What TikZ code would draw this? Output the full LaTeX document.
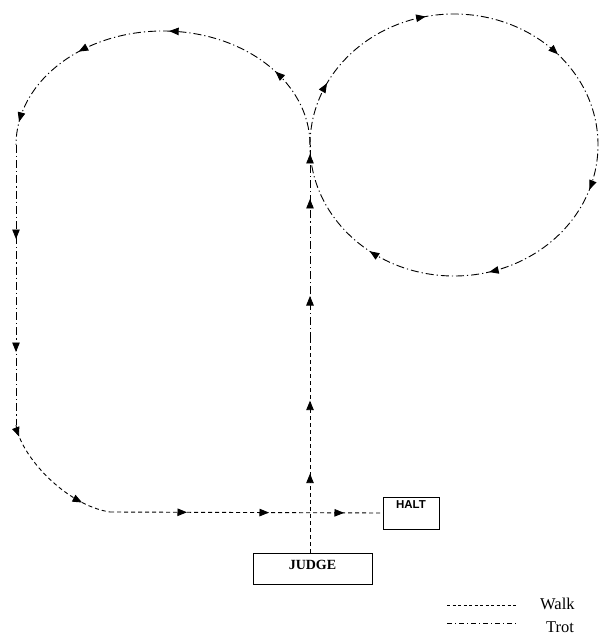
\documentclass[tikz,border=0pt]{standalone}
\usepackage{fontspec}
\setmainfont{Liberation Serif}
\setsansfont{Liberation Sans}
\usetikzlibrary{positioning, arrows.meta, decorations.markings, calc}

\begin{document}
\begin{tikzpicture}[x=1pt, y=1pt,
    walk/.style={line width=0.9pt, dash pattern=on 4pt off 3pt},
    trot/.style={line width=0.9pt, dash pattern=on 8pt off 3pt on 1.2pt off 3pt},
    tip/.style={postaction={decorate, decoration={markings,
        mark=at position #1 with {\arrow{Triangle[length=9.5pt, width=7.5pt]}}}}},
    box/.style={draw, line width=0.7pt, inner sep=0pt},
    legend/.style={inner sep=0pt, font=\fontsize{16.5}{16.5}\selectfont}]
  \useasboundingbox (0,0) rectangle (599,-636);

  \coordinate (junction) at (310,-145);
  \coordinate (change) at (310,-340);
  \coordinate (left_top) at (16,-145);
  \coordinate (left_bottom) at (16,-425);
  \coordinate (corner_end) at (110,-512);

  \node [box, minimum width=119pt, minimum height=31pt, text height=9.5pt, text depth=8pt,
         font=\fontsize{14}{14}\selectfont\bfseries] (judge) at (312.5,-568.5) {JUDGE};
  \node [box, minimum width=56pt, minimum height=32pt, text height=8.2pt, text depth=17pt,
         font=\sffamily\fontsize{11.5}{11.5}\selectfont\bfseries] (halt) at (411,-513) {HALT};

  % up the centre line
  \draw [walk, tip=79pt, tip=152pt] (judge.north -| junction) -- (change);
  \draw [trot, tip=44pt, tip=141pt, tip=186pt] (change) -- (junction);

  % circle on the right rein
  \draw [trot, tip=0.075, tip=0.217, tip=0.382, tip=0.553, tip=0.709, tip=0.853]
    (junction) arc [start angle=180, end angle=-180, x radius=144, y radius=131];

  % back round to the left
  \draw [trot, tip=0.203, tip=0.485, tip=0.713, tip=0.943]
    (junction) arc [start angle=0, end angle=180, x radius=147, y radius=114];
  \draw [trot, tip=94pt, tip=207pt] (left_top) -- (left_bottom);

  % walk to the halt
  \draw [walk, tip=12pt, tip=0.78] (left_bottom) .. controls (20,-455) and (65,-505) .. (corner_end);
  \draw [walk, tip=77pt, tip=159pt, tip=234pt] (corner_end) -- (halt.west);

  % legend
  \coordinate (walk_begin) at (447,-605);
  \coordinate (walk_end) at (517,-605);
  \coordinate (trot_begin) at (447,-623);
  \coordinate (trot_end) at (517,-623);
  \node [legend, anchor=west] (walk_text) at (540,-603.5) {Walk};
  \node [legend, anchor=west] (trot_text) at (546,-627) {Trot};

  \draw [walk, line width=0.7pt, dash pattern=on 3pt off 2.5pt] (walk_begin) -- (walk_end);
  \draw [trot, line width=0.7pt, dash pattern=on 5pt off 3pt on 1pt off 3pt] (trot_begin) -- (trot_end);
\end{tikzpicture}
\end{document}
